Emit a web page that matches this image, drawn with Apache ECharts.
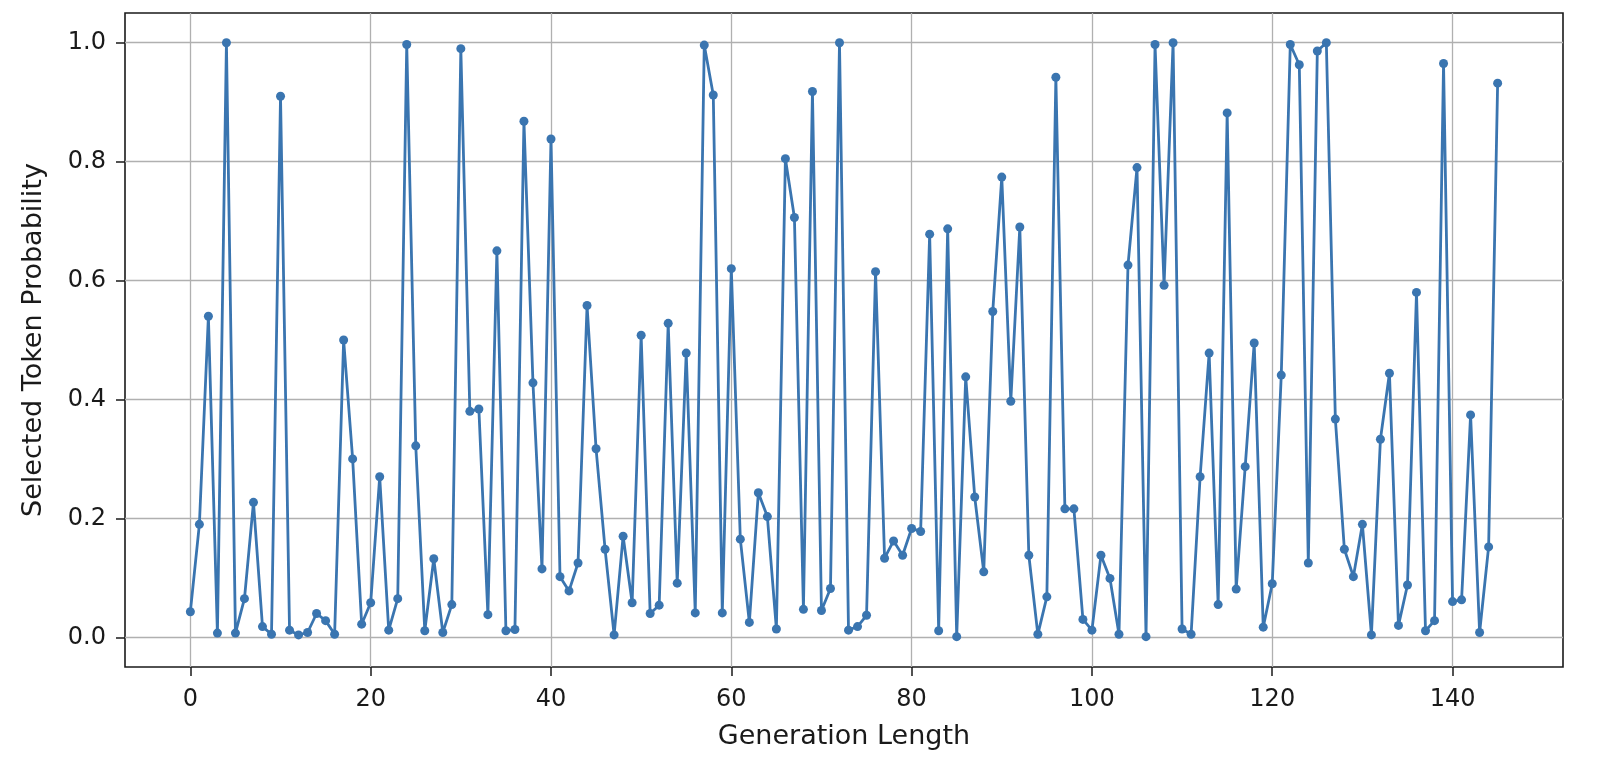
<!DOCTYPE html>
<html>
<head>
<meta charset="utf-8">
<script src="https://cdn.jsdelivr.net/npm/echarts@6/dist/echarts.min.js"></script>
<style>
  html, body { margin: 0; padding: 0; background: #fff; }
  #main { width: 1602px; height: 766px; }
</style>
</head>
<body>
<div id="main"></div>
<script>
// selected token probability per generation step (index = generation length)
var probs = [
  0.043, 0.19, 0.54, 0.007, 1.0, 0.007, 0.065, 0.227, 0.018, 0.005,
  0.91, 0.012, 0.004, 0.008, 0.04, 0.028, 0.005, 0.50, 0.30, 0.022,
  0.058, 0.27, 0.012, 0.065, 0.997, 0.322, 0.011, 0.132, 0.008, 0.055,
  0.99, 0.38, 0.384, 0.038, 0.65, 0.011, 0.013, 0.868, 0.428, 0.115,
  0.838, 0.102, 0.078, 0.125, 0.558, 0.317, 0.148, 0.004, 0.17, 0.058,
  0.508, 0.04, 0.054, 0.528, 0.091, 0.478, 0.041, 0.996, 0.912, 0.041,
  0.62, 0.165, 0.025, 0.243, 0.203, 0.014, 0.805, 0.706, 0.047, 0.918,
  0.045, 0.082, 1.0, 0.012, 0.018, 0.037, 0.615, 0.133, 0.162, 0.138,
  0.183, 0.178, 0.678, 0.011, 0.687, 0.001, 0.438, 0.236, 0.11, 0.548,
  0.774, 0.397, 0.69, 0.138, 0.005, 0.068, 0.942, 0.216, 0.216, 0.03,
  0.012, 0.138, 0.099, 0.005, 0.626, 0.79, 0.001, 0.997, 0.592, 1.0,
  0.014, 0.005, 0.27, 0.478, 0.055, 0.882, 0.081, 0.287, 0.495, 0.017,
  0.09, 0.441, 0.997, 0.963, 0.125, 0.986, 1.0, 0.367, 0.148, 0.102,
  0.19, 0.004, 0.333, 0.444, 0.02, 0.088, 0.58, 0.011, 0.028, 0.965,
  0.06, 0.063, 0.374, 0.008, 0.152, 0.932
];
var xTicks = [0, 20, 40, 60, 80, 100, 120, 140];
var yTicks = [0, 0.2, 0.4, 0.6, 0.8, 1.0];

var chart = echarts.init(document.getElementById('main'));

var points = probs.map(function (v, i) { return [i, v]; });
var tickFont = { fontFamily: 'DejaVu Sans', fontSize: 24, color: '#1a1a1a' };
var titleFont = { fontFamily: 'DejaVu Sans', fontSize: 27, color: '#1a1a1a' };

var option = {
  animation: false,
  grid: {
    left: 125, right: 39, top: 13, bottom: 99,
    show: true, borderColor: '#1a1a1a', borderWidth: 1.6, backgroundColor: '#fff'
  },
  xAxis: {
    type: 'value',
    min: -7.25,
    max: 152.25,
    name: 'Generation Length',
    nameLocation: 'middle',
    nameGap: 56,
    nameTextStyle: titleFont,
    axisLine: { show: false, onZero: false },
    axisTick: { show: true, length: 9, lineStyle: { color: '#1a1a1a', width: 1.5 }, customValues: xTicks },
    axisLabel: Object.assign({ margin: 21, customValues: xTicks, formatter: function (v) { return String(v); } }, tickFont),
    splitLine: { show: true, lineStyle: { color: '#b0b0b0', width: 1.3 } }
  },
  yAxis: {
    type: 'value',
    min: -0.05,
    max: 1.05,
    name: 'Selected Token Probability',
    nameLocation: 'middle',
    nameGap: 78,
    nameTextStyle: titleFont,
    axisLine: { show: false, onZero: false },
    axisTick: { show: true, length: 9, lineStyle: { color: '#1a1a1a', width: 1.5 }, customValues: yTicks },
    axisLabel: Object.assign({ margin: 19, customValues: yTicks, formatter: function (v) { return v.toFixed(1); } }, tickFont),
    splitLine: { show: true, lineStyle: { color: '#b0b0b0', width: 1.3 } }
  },
  series: [{
    type: 'line',
    data: points,
    symbol: 'circle',
    symbolSize: 9,
    showAllSymbol: true,
    lineStyle: { color: '#3a75b0', width: 2.8 },
    itemStyle: { color: '#3a75b0' }
  }]
};

chart.setOption(option);
</script>
</body>
</html>
